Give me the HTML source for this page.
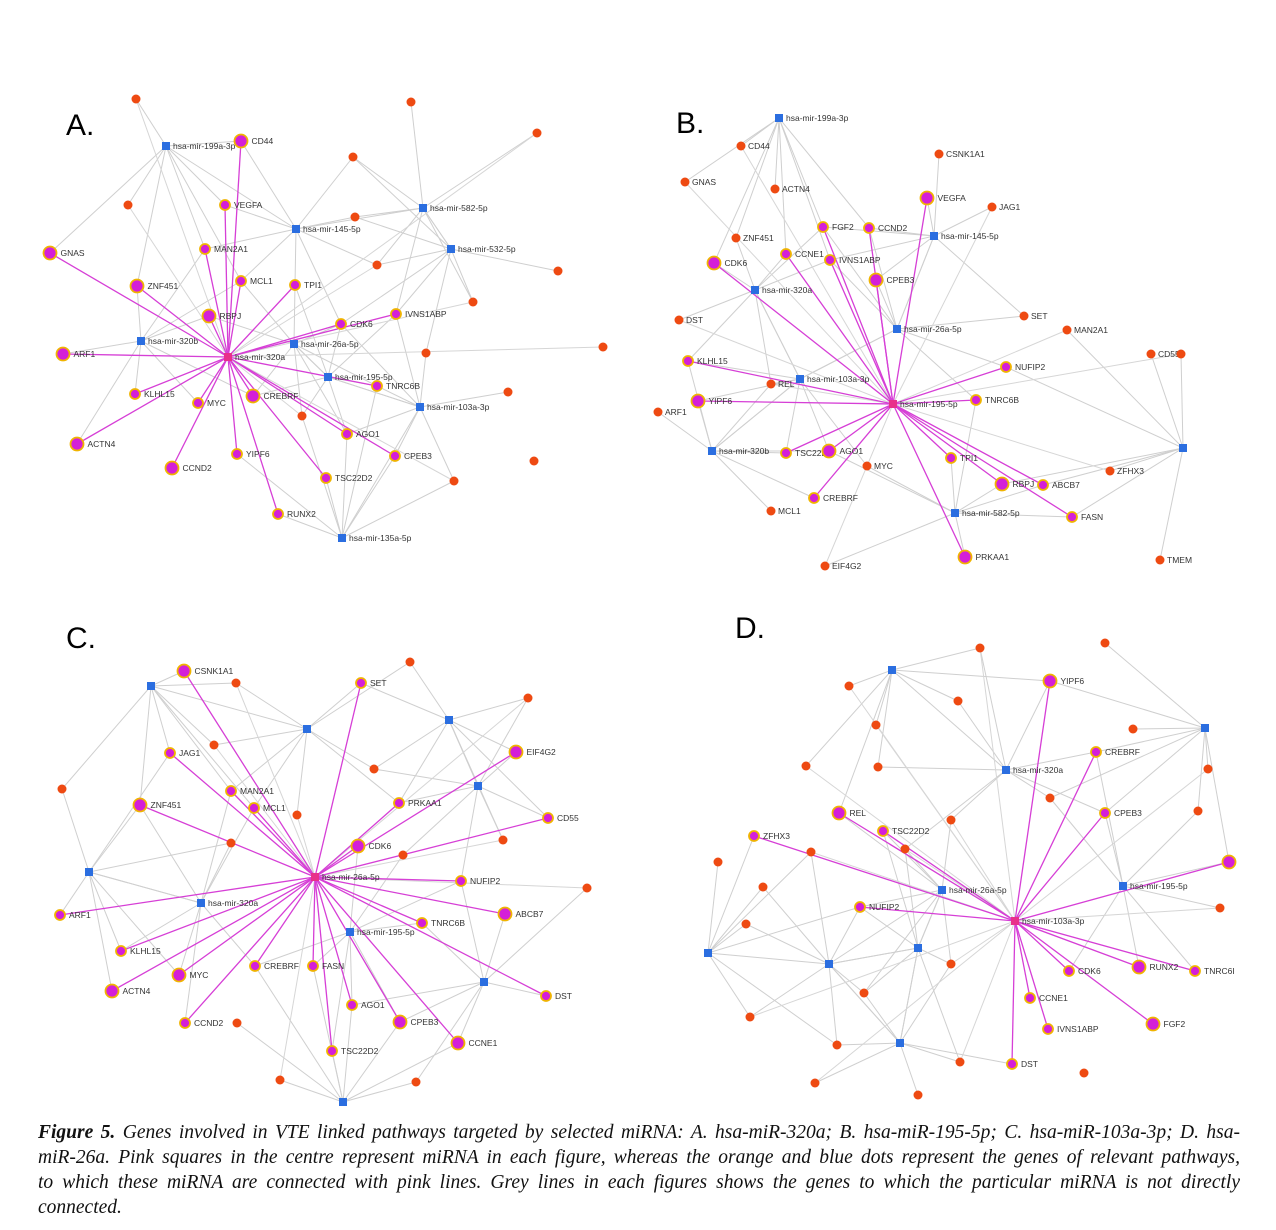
<!DOCTYPE html>
<html><head><meta charset="utf-8"><style>
html,body{margin:0;padding:0;background:#fff;}
#c{position:absolute;left:38px;top:1120px;width:1202px;font-family:"Liberation Serif",serif;font-style:italic;font-size:19.5px;line-height:25px;color:#111;}
#c div{text-align:justify;text-align-last:justify;white-space:nowrap;}
#c div.l{text-align-last:left;}
svg text{font-family:"Liberation Sans",sans-serif;}
</style></head><body>
<svg id="s" width="1276" height="1230" style="position:absolute;left:0;top:0">
<g id="gl"></g><g id="pl"></g><g id="nd"></g>
<text x="66" y="135" font-size="30">A.</text>
<text x="676" y="133" font-size="30">B.</text>
<text x="66" y="648" font-size="30">C.</text>
<text x="735" y="638" font-size="30">D.</text>
</svg>
<div id="c">
<div><b>Figure 5.</b> Genes involved in VTE linked pathways targeted by selected miRNA: A. hsa-miR-320a; B. hsa-miR-195-5p; C. hsa-miR-103a-3p; D. hsa-</div>
<div>miR-26a. Pink squares in the centre represent miRNA in each figure, whereas the orange and blue dots represent the genes of relevant pathways,</div>
<div>to which these miRNA are connected with pink lines. Grey lines in each figures shows the genes to which the particular miRNA is not directly</div>
<div class="l">connected.</div>
</div>
<script>
var P=[
{c:[228,357,"hsa-mir-320a"],
p:[[241,141,"CD44"],[225,205,"VEGFA"],[205,249,"MAN2A1"],[137,286,"ZNF451"],[241,281,"MCL1"],[295,285,"TPI1"],[209,316,"RBPJ"],[341,324,"CDK6"],[396,314,"IVNS1ABP"],[63,354,"ARF1"],[135,394,"KLHL15"],[198,403,"MYC"],[253,396,"CREBRF"],[377,386,"TNRC6B"],[347,434,"AGO1"],[77,444,"ACTN4"],[237,454,"YIPF6"],[395,456,"CPEB3"],[172,468,"CCND2"],[326,478,"TSC22D2"],[278,514,"RUNX2"],[50,253,"GNAS"]],
b:[[166,146,"hsa-mir-199a-3p"],[296,229,"hsa-mir-145-5p"],[423,208,"hsa-mir-582-5p"],[451,249,"hsa-mir-532-5p"],[141,341,"hsa-mir-320b"],[294,344,"hsa-mir-26a-5p"],[328,377,"hsa-mir-195-5p"],[420,407,"hsa-mir-103a-3p"],[342,538,"hsa-mir-135a-5p"]],
o:[[136,99],[411,102],[537,133],[353,157],[128,205],[355,217],[377,265],[558,271],[473,302],[426,353],[603,347],[508,392],[302,416],[534,461],[454,481]]},
{c:[893,404,"hsa-mir-195-5p"],
p:[[927,198,"VEGFA"],[823,227,"FGF2"],[869,228,"CCND2"],[714,263,"CDK6"],[786,254,"CCNE1"],[830,260,"IVNS1ABP"],[876,280,"CPEB3"],[688,361,"KLHL15"],[1006,367,"NUFIP2"],[698,401,"YIPF6"],[976,400,"TNRC6B"],[786,453,"TSC22D2"],[829,451,"AGO1"],[951,458,"TPI1"],[814,498,"CREBRF"],[1002,484,"RBPJ"],[1043,485,"ABCB7"],[1072,517,"FASN"],[965,557,"PRKAA1"]],
b:[[779,118,"hsa-mir-199a-3p"],[934,236,"hsa-mir-145-5p"],[755,290,"hsa-mir-320a"],[897,329,"hsa-mir-26a-5p"],[800,379,"hsa-mir-103a-3p"],[712,451,"hsa-mir-320b"],[955,513,"hsa-mir-582-5p"],[1183,448,""]],
o:[[741,146,"CD44"],[939,154,"CSNK1A1"],[685,182,"GNAS"],[775,189,"ACTN4"],[992,207,"JAG1"],[736,238,"ZNF451"],[679,320,"DST"],[1024,316,"SET"],[1067,330,"MAN2A1"],[1151,354,"CD55"],[1181,354],[658,412,"ARF1"],[771,384,"REL"],[867,466,"MYC"],[1110,471,"ZFHX3"],[771,511,"MCL1"],[825,566,"EIF4G2"],[1160,560,"TMEM"]]},
{c:[315,877,"hsa-mir-26a-5p"],
p:[[184,671,"CSNK1A1"],[361,683,"SET"],[170,753,"JAG1"],[516,752,"EIF4G2"],[231,791,"MAN2A1"],[254,808,"MCL1"],[140,805,"ZNF451"],[399,803,"PRKAA1"],[548,818,"CD55"],[358,846,"CDK6"],[461,881,"NUFIP2"],[60,915,"ARF1"],[505,914,"ABCB7"],[422,923,"TNRC6B"],[121,951,"KLHL15"],[179,975,"MYC"],[255,966,"CREBRF"],[313,966,"FASN"],[112,991,"ACTN4"],[546,996,"DST"],[352,1005,"AGO1"],[400,1022,"CPEB3"],[185,1023,"CCND2"],[332,1051,"TSC22D2"],[458,1043,"CCNE1"]],
b:[[151,686,""],[307,729,""],[449,720,""],[478,786,""],[89,872,""],[201,903,"hsa-mir-320a"],[350,932,"hsa-mir-195-5p"],[484,982,""],[343,1102,""]],
o:[[236,683],[410,662],[528,698],[62,789],[214,745],[374,769],[297,815],[231,843],[503,840],[403,855],[587,888],[237,1023],[280,1080],[416,1082]]},
{c:[1015,921,"hsa-mir-103a-3p"],
p:[[1050,681,"YIPF6"],[1096,752,"CREBRF"],[1105,813,"CPEB3"],[839,813,"REL"],[883,831,"TSC22D2"],[754,836,"ZFHX3"],[1229,862,""],[860,907,"NUFIP2"],[1069,971,"CDK6"],[1139,967,"RUNX2"],[1195,971,"TNRC6I"],[1030,998,"CCNE1"],[1153,1024,"FGF2"],[1048,1029,"IVNS1ABP"],[1012,1064,"DST"]],
b:[[892,670,""],[1006,770,"hsa-mir-320a"],[942,890,"hsa-mir-26a-5p"],[1123,886,"hsa-mir-195-5p"],[1205,728,""],[918,948,""],[829,964,""],[708,953,""],[900,1043,""]],
o:[[980,648],[1105,643],[849,686],[958,701],[876,725],[1133,729],[806,766],[878,767],[1208,769],[1050,798],[951,820],[1198,811],[905,849],[718,862],[811,852],[763,887],[1220,908],[746,924],[951,964],[864,993],[750,1017],[837,1045],[960,1062],[1084,1073],[815,1083],[918,1095]]}
];
var NS="http://www.w3.org/2000/svg";
function el(g,t,a,txt){var e=document.createElementNS(NS,t);for(var k in a)e.setAttribute(k,a[k]);if(txt)e.textContent=txt;document.getElementById(g).appendChild(e);}
function line(g,a,b,col,w){el(g,"line",{x1:a[0],y1:a[1],x2:b[0],y2:b[1],stroke:col,"stroke-width":w});}
function lab(n,dx){if(n[2])el("nd","text",{x:n[0]+dx,y:n[1]+3,"font-size":8.5,fill:"#333"},n[2]);}
P.forEach(function(q){
 var all=q.p.concat(q.o).concat(q.b);
 q.b.forEach(function(b){
  var s=all.filter(function(n){return n!==b;}).sort(function(u,v){return Math.hypot(u[0]-b[0],u[1]-b[1])-Math.hypot(v[0]-b[0],v[1]-b[1]);});
  s.slice(0,9).forEach(function(n){line("gl",b,n,"#cfcfcf",1);});
 });
 q.o.forEach(function(o,i){if(i%2==0)line("gl",q.c,o,"#d6d6d6",1);});
 q.p.forEach(function(n){line("pl",q.c,n,"#d63fd6",1.3);});
 q.o.forEach(function(n){el("nd","circle",{cx:n[0],cy:n[1],r:4.5,fill:"#ee4a12"});lab(n,7);});
 q.b.forEach(function(n){el("nd","rect",{x:n[0]-4,y:n[1]-4,width:8,height:8,fill:"#2b6ee0"});lab(n,7);});
 q.p.forEach(function(n,i){var r=(i%3==0)?6.5:5;el("nd","circle",{cx:n[0],cy:n[1],r:r,fill:"#d41fd8",stroke:"#f0b400","stroke-width":1.8});lab(n,r+4);});
 var c=q.c;el("nd","rect",{x:c[0]-4,y:c[1]-4,width:8,height:8,fill:"#e8308a"});lab(c,7);
});
</script>
</body></html>
